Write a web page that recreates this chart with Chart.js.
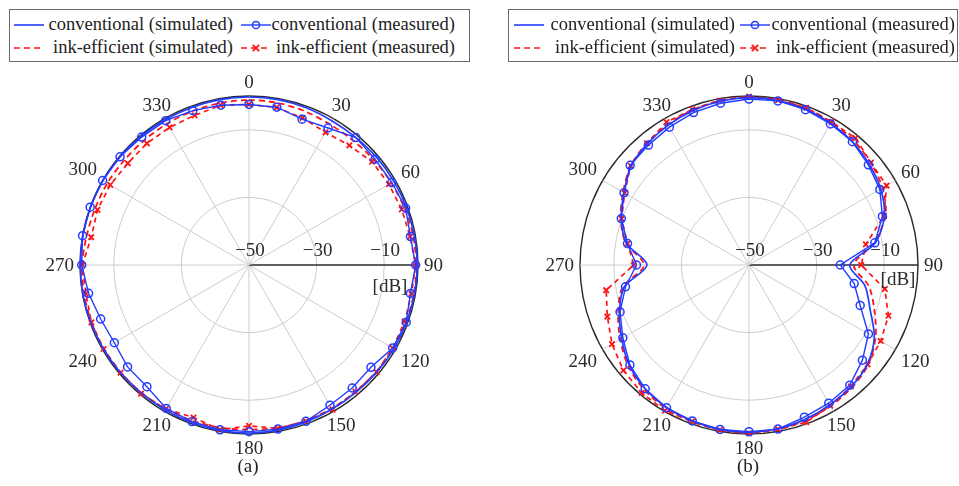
<!DOCTYPE html>
<html><head><meta charset="utf-8">
<script src="https://cdn.jsdelivr.net/npm/chart.js@4.4.1/dist/chart.umd.min.js"></script>
<style>
html,body{margin:0;padding:0;background:#fff;}
#wrap{position:relative;width:959px;height:486px;overflow:hidden;font-family:"Liberation Serif","Times New Roman",serif;color:#222;}
canvas{position:absolute;left:0;top:0;}
.legend{position:absolute;border:1.5px solid #6a6a6a;box-sizing:border-box;background:#fff;}
.lt{position:absolute;font-size:18.5px;white-space:nowrap;line-height:20px;text-align:right;}
.smp{position:absolute;}
.cap{position:absolute;font-size:19px;transform:translate(-50%,-50%);white-space:nowrap;}
</style></head>
<body>
<div id="wrap">
  <canvas id="cA" width="959" height="486"></canvas>
  <canvas id="cB" width="959" height="486"></canvas>
  <div class="cap" style="left:248px;top:466px;">(a)</div>
  <div class="cap" style="left:748px;top:466px;">(b)</div>
</div>
<script>
// ---- data ----
const angles = [0,10,20,30,40,50,60,70,80,90,100,110,120,130,140,150,160,170,180,190,200,210,220,230,240,250,260,270,280,290,300,310,320,330,340,350];
const angleTickValues = [0,30,60,90,120,150,180,210,240,270,300,330];
const radialTickValues = [-50,-30,-10];
const radialTickLabels = ['\u221250','\u221230','\u221210'];
const radialUnit = '[dB]';
const seriesNames = ['conventional (simulated)','conventional (measured)','ink-efficient (simulated)','ink-efficient (measured)'];

// (a)
const convSimA  = [-0.3,-0.3,-0.5,-0.8,-0.8,-0.6,-0.5,-0.4,-0.3,-0.2,-0.3,-0.4,-0.5,-0.7,-0.8,-0.8,-0.6,-0.4,-0.3,-0.3,-0.4,-0.5,-0.5,-0.4,-0.3,-0.2,-0.1,-0.1,-0.1,-0.1,-0.1,-0.2,-0.3,-0.4,-0.4,-0.3];
const convMeasA = [-2.5,-2.6,-4.1,-3.2,-0.8,-1.3,-1.2,-0.7,-1.5,-0.7,-1.5,-0.5,-0.9,-2.9,-2.5,-2.1,-0.8,-0.7,-0.7,-0.5,-0.7,-1.0,-3.0,-3.1,-4.0,-3.3,-1.8,-0.5,0,0,0,-0.2,-0.6,-0.7,-1.4,-2.0];
const inkSimA   = [-1.2,-1.3,-1.6,-2.0,-2.0,-1.7,-1.4,-1.0,-0.7,-0.5,-0.5,-0.6,-0.8,-0.9,-1.0,-1.0,-1.0,-1.1,-1.3,-1.1,-1.0,-0.8,-0.6,-0.5,-0.4,-0.4,-0.5,-0.6,-1.2,-1.5,-1.6,-1.8,-1.8,-1.7,-1.5,-1.3];
const inkMeasA  = [-2.5,-2.7,-3.7,-4.7,-3.8,-2.5,-2.2,-1.9,-1.6,-0.7,-1.2,-1.0,-0.9,-0.7,-1.0,-0.6,-0.8,-0.9,-2.4,-0.5,-2.0,-0.8,-0.3,-0.4,-0.3,-0.4,-1.0,-0.7,-2.6,-2.3,-2.6,-3.2,-3.0,-3.0,-2.9,-2.0];
// (b)
const convSimB  = [-0.5,-0.6,-1.0,-1.6,-2.4,-3.6,-5.0,-7.4,-12.0,-20.2,-15.2,-11.9,-7.2,-4.3,-3.0,-2.2,-1.4,-0.8,-0.5,-0.6,-0.9,-1.3,-2.2,-3.8,-6.5,-9.2,-12.5,-19.8,-13.2,-9.8,-7.3,-4.5,-3.2,-2.2,-1.4,-0.8];
const convMeasB = [-0.9,-0.7,-1.1,-1.8,-2.4,-3.9,-5.3,-8.0,-12.2,-23.0,-18.4,-15.0,-9.2,-6.2,-3.6,-2.8,-2.1,-0.7,-0.7,-0.6,-0.9,-1.2,-2.2,-4.0,-6.9,-9.4,-12.9,-16.7,-13.5,-9.8,-7.3,-4.1,-3.7,-2.9,-2.0,-1.4];
const inkSimB   = [-0.3,-0.4,-0.7,-1.2,-1.9,-3.0,-4.4,-7.0,-12.5,-19.0,-14.0,-10.5,-6.8,-4.0,-2.7,-1.8,-1.1,-0.6,-0.4,-0.5,-0.7,-1.0,-1.8,-3.4,-6.0,-8.8,-12.0,-19.0,-13.0,-9.6,-7.0,-4.3,-3.0,-2.0,-1.2,-0.6];
const inkMeasB  = [-0.2,-0.5,-0.5,-1.1,-1.0,-2.9,-3.0,-7.5,-14.9,-16.8,-9.2,-6.1,-5.0,-4.2,-3.1,-1.9,-0.5,-0.7,-0.2,-0.4,-0.8,-0.2,-0.6,-1.5,-3.2,-5.4,-7.1,-15.9,-13.5,-9.9,-7.5,-4.3,-3.0,-1.2,-1.0,-0.6];

// ---- styles ----
const BLUE = 'rgb(35,60,255)';
const RED = 'rgb(255,20,20)';
const GRID = '#cccccc';
const DARK = '#2a2a2a';
const FONT = '19px "Liberation Serif", "Times New Roman", serif';

function makeDatasets(cs, cm, is, im) {
  return [
    {label: seriesNames[0], data: cs, borderColor: BLUE, borderWidth: 1.7, pointRadius: 0, tension: 0.3, fill: false, backgroundColor: 'rgba(0,0,0,0)', clip: false},
    {label: seriesNames[1], data: cm, borderColor: BLUE, borderWidth: 1.4, pointStyle: 'circle', pointRadius: 4, pointBorderWidth: 1.5, pointBorderColor: BLUE, pointBackgroundColor: 'rgba(255,255,255,0)', tension: 0, fill: false, backgroundColor: 'rgba(0,0,0,0)', clip: false},
    {label: seriesNames[2], data: is, borderColor: RED, borderWidth: 1.8, borderDash: [6,4], pointRadius: 0, tension: 0.3, fill: false, backgroundColor: 'rgba(0,0,0,0)', clip: false},
    {label: seriesNames[3], data: im, borderColor: RED, borderWidth: 1.7, borderDash: [5,4], pointStyle: 'crossRot', pointRadius: 3.8, pointBorderWidth: 1.8, pointBorderColor: RED, pointBackgroundColor: RED, tension: 0, fill: false, backgroundColor: 'rgba(0,0,0,0)', clip: false}
  ];
}

const polarText = {
  id: 'polarText',
  afterDraw(chart, args, opts) {
    const s = chart.scales.r;
    const ctx = chart.ctx;
    ctx.save();
    ctx.font = FONT;
    ctx.fillStyle = DARK;
    ctx.textAlign = 'center';
    ctx.textBaseline = 'middle';
    const R0 = s.drawingArea + 3;
    angleTickValues.forEach(v => {
      const i = angles.indexOf(v);
      const p = s.getPointPosition(i, R0);
      const a = s.getIndexAngle(i);
      const dx = Math.sin(a), dy = -Math.cos(a);
      const lab = String(v);
      const hw = ctx.measureText(lab).width / 2 + 3, hh = 11;
      const tx = Math.abs(dx) > 1e-6 ? hw / Math.abs(dx) : Infinity;
      const ty = Math.abs(dy) > 1e-6 ? hh / Math.abs(dy) : Infinity;
      const t = Math.min(tx, ty);
      ctx.fillText(lab, p.x + dx * t, p.y + dy * t + 1);
    });
    radialTickValues.forEach((v, k) => {
      const d = s.getDistanceFromCenterForValue(v);
      ctx.fillText(radialTickLabels[k], s.xCenter + d + 1, s.yCenter - 14);
    });
    ctx.fillText(radialUnit, s.xCenter + opts.unitDx, s.yCenter + opts.unitDy);
    ctx.restore();
  }
};

function makeChart(id, padLeft, data, unitDx, unitDy) {
  const top = 96, size = 338;
  return new Chart(document.getElementById(id), {
    type: 'radar',
    data: {labels: angles.map(String), datasets: makeDatasets(...data)},
    options: {
      responsive: false, animation: false, devicePixelRatio: 1,
      layout: {padding: {left: padLeft, top: top, right: 959 - padLeft - size, bottom: 486 - top - size}},
      plugins: {legend: {display: false}, tooltip: {enabled: false}, polarText: {unitDx, unitDy}},
      scales: {
        r: {
          min: -50, max: 0, startAngle: 0,
          afterBuildTicks: sc => { sc.ticks = radialTickValues.concat([0]).map(v => ({value: v})); },
          ticks: {display: false},
          pointLabels: {display: false},
          grid: {circular: true,
                 color: c => (c.tick && c.tick.value === 0) ? DARK : GRID,
                 lineWidth: c => (c.tick && c.tick.value === 0) ? 1.4 : 1},
          angleLines: {
            color: c => angleTickValues.includes(angles[c.index]) ? (angles[c.index] === 90 ? DARK : GRID) : 'rgba(0,0,0,0)',
            lineWidth: c => angleTickValues.includes(angles[c.index]) ? (angles[c.index] === 90 ? 1.4 : 1) : 0
          }
        }
      }
    },
    plugins: [polarText]
  });
}

makeChart('cA', 80, [convSimA, convMeasA, inkSimA, inkMeasA], 141, 22);
makeChart('cB', 580, [convSimB, convMeasB, inkSimB, inkMeasB], 149, 15);

// ---- legends ----
function sampleSVG(kind) {
  const w = 30, h = 14, y = 7;
  let s = `<svg class="smp" width="${w}" height="${h}" xmlns="http://www.w3.org/2000/svg">`;
  if (kind === 0) s += `<line x1="0" y1="${y}" x2="${w}" y2="${y}" stroke="${BLUE}" stroke-width="1.6"/>`;
  if (kind === 1) s += `<line x1="0" y1="${y}" x2="${w}" y2="${y}" stroke="${BLUE}" stroke-width="1.4"/><circle cx="${w/2}" cy="${y}" r="3.6" fill="none" stroke="${BLUE}" stroke-width="1.5"/>`;
  if (kind === 2) s += `<line x1="0" y1="${y}" x2="${w}" y2="${y}" stroke="${RED}" stroke-width="1.7" stroke-dasharray="6,4"/>`;
  if (kind === 3) s += `<line x1="0" y1="${y}" x2="${w}" y2="${y}" stroke="${RED}" stroke-width="1.7" stroke-dasharray="6,4"/><path d="M${w/2-3.2},${y-3.2}L${w/2+3.2},${y+3.2}M${w/2-3.2},${y+3.2}L${w/2+3.2},${y-3.2}" stroke="${RED}" stroke-width="1.8"/>`;
  return s + '</svg>';
}
function makeLegend(box, cols) {
  const wrap = document.getElementById('wrap');
  const lg = document.createElement('div');
  lg.className = 'legend';
  lg.style.left = box.x + 'px'; lg.style.top = box.y + 'px';
  lg.style.width = box.w + 'px'; lg.style.height = box.h + 'px';
  wrap.appendChild(lg);
  const rows = [25, 48];
  const order = [[0, 1], [2, 3]];
  order.forEach((r, ri) => r.forEach((k, ci) => {
    const c = cols[ci];
    const sv = document.createElement('div');
    sv.innerHTML = sampleSVG(k);
    const el = sv.firstChild;
    el.style.left = c.sx + 'px'; el.style.top = (rows[ri] - 7) + 'px';
    wrap.appendChild(el);
    const t = document.createElement('div');
    t.className = 'lt';
    t.textContent = seriesNames[k];
    t.style.right = (959 - c.te) + 'px';
    t.style.top = (rows[ri] - 11) + 'px';
    wrap.appendChild(t);
  }));
}
makeLegend({x: 9, y: 9, w: 461, h: 53}, [{sx: 14, te: 233}, {sx: 241, te: 455}]);
makeLegend({x: 508, y: 9, w: 450, h: 53}, [{sx: 514, te: 735}, {sx: 740, te: 955}]);
</script>
</body></html>
